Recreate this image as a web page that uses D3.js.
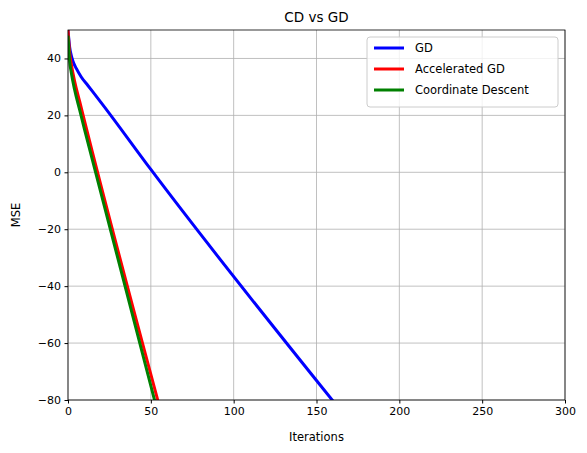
<!DOCTYPE html>
<html><head><meta charset="utf-8">
<script src="https://cdn.jsdelivr.net/npm/d3@7"></script>
<style>body{margin:0;background:#fff;font-family:"DejaVu Sans",sans-serif;}</style>
</head><body>
<svg id="c" width="587" height="453"></svg>
<script>
// values
var xTicks = [0, 50, 100, 150, 200, 250, 300];
var yTicks = [-80, -60, -40, -20, 0, 20, 40];
var gdIter = [0, 1, 2, 3, 5, 8, 12, 20, 50, 165];
var gdMse  = [50, 44, 41, 39, 36.5, 33.5, 30.5, 24.5, 1, -84];
var agdIter = [0, 1, 2, 4, 7, 10, 56];
var agdMse  = [50, 42, 38, 32, 25, 18, -84];
var cdIter = [0, 1, 2, 4, 7, 10, 54];
var cdMse  = [48, 39, 35, 29, 22, 15, -84];
var series = [
  {name: "GD", x: gdIter, y: gdMse, color: "#0000ff"},
  {name: "Accelerated GD", x: agdIter, y: agdMse, color: "#ff0000"},
  {name: "Coordinate Descent", x: cdIter, y: cdMse, color: "#008000"}
];

var m = {left: 68, right: 22, top: 30, bottom: 53};
var W = 587, H = 453;
var svg = d3.select("#c");
var x = d3.scaleLinear().domain([0, 300]).range([m.left, W - m.right]);
var y = d3.scaleLinear().domain([-80, 50]).range([H - m.bottom, m.top]);

// grid
svg.append("g").selectAll("line").data(xTicks).join("line")
  .attr("x1", d => x(d)).attr("x2", d => x(d)).attr("y1", y(50)).attr("y2", y(-80))
  .attr("stroke", "#b0b0b0").attr("stroke-width", 0.8);
svg.append("g").selectAll("line").data(yTicks).join("line")
  .attr("y1", d => y(d)).attr("y2", d => y(d)).attr("x1", x(0)).attr("x2", x(300))
  .attr("stroke", "#b0b0b0").attr("stroke-width", 0.8);

svg.append("clipPath").attr("id", "clip").append("rect")
  .attr("x", x(0)).attr("y", y(50)).attr("width", x(300) - x(0)).attr("height", y(-80) - y(50));

var line = d3.line().x(d => x(d[0])).y(d => y(d[1])).curve(d3.curveMonotoneX);
svg.append("g").attr("clip-path", "url(#clip)").selectAll("path").data(series).join("path")
  .attr("d", s => line(s.x.map((v, i) => [v, s.y[i]])))
  .attr("fill", "none").attr("stroke", s => s.color).attr("stroke-width", 3);

var xa = svg.append("g").attr("transform", "translate(0," + y(-80) + ")")
  .call(d3.axisBottom(x).tickValues(xTicks).tickSize(3.5).tickPadding(3.5));
var ya = svg.append("g").attr("transform", "translate(" + x(0) + ",0)")
  .call(d3.axisLeft(y).tickValues(yTicks).tickSize(3.5).tickPadding(3.5).tickFormat(d => d < 0 ? "\u2212" + (-d) : d));
[xa, ya].forEach(a => { a.selectAll("text").attr("font-size", 11).attr("font-family", "DejaVu Sans").attr("fill", "#000"); a.select(".domain").remove(); });

svg.append("rect").attr("x", x(0)).attr("y", y(50)).attr("width", x(300) - x(0)).attr("height", y(-80) - y(50))
  .attr("fill", "none").attr("stroke", "#000").attr("stroke-width", 0.8);

svg.append("text").attr("x", (x(0) + x(300)) / 2).attr("y", 22).attr("text-anchor", "middle")
  .attr("font-size", 13.5).text("CD vs GD");
svg.append("text").attr("x", (x(0) + x(300)) / 2).attr("y", 441).attr("text-anchor", "middle")
  .attr("font-size", 11.5).text("Iterations");
svg.append("text").attr("transform", "translate(20," + (y(50) + y(-80)) / 2 + ") rotate(-90)")
  .attr("text-anchor", "middle").attr("font-size", 11.5).text("MSE");

// legend
var lg = svg.append("g").attr("transform", "translate(367,37)");
lg.append("rect").attr("width", 191).attr("height", 70).attr("rx", 3)
  .attr("fill", "#fff").attr("fill-opacity", 0.8).attr("stroke", "#ccc");
series.forEach((s, i) => {
  lg.append("line").attr("x1", 7).attr("x2", 37).attr("y1", 11 + i * 21).attr("y2", 11 + i * 21)
    .attr("stroke", s.color).attr("stroke-width", 3);
  lg.append("text").attr("x", 48).attr("y", 15 + i * 21).attr("font-size", 11.5).text(s.name);
});
</script>
</body></html>
